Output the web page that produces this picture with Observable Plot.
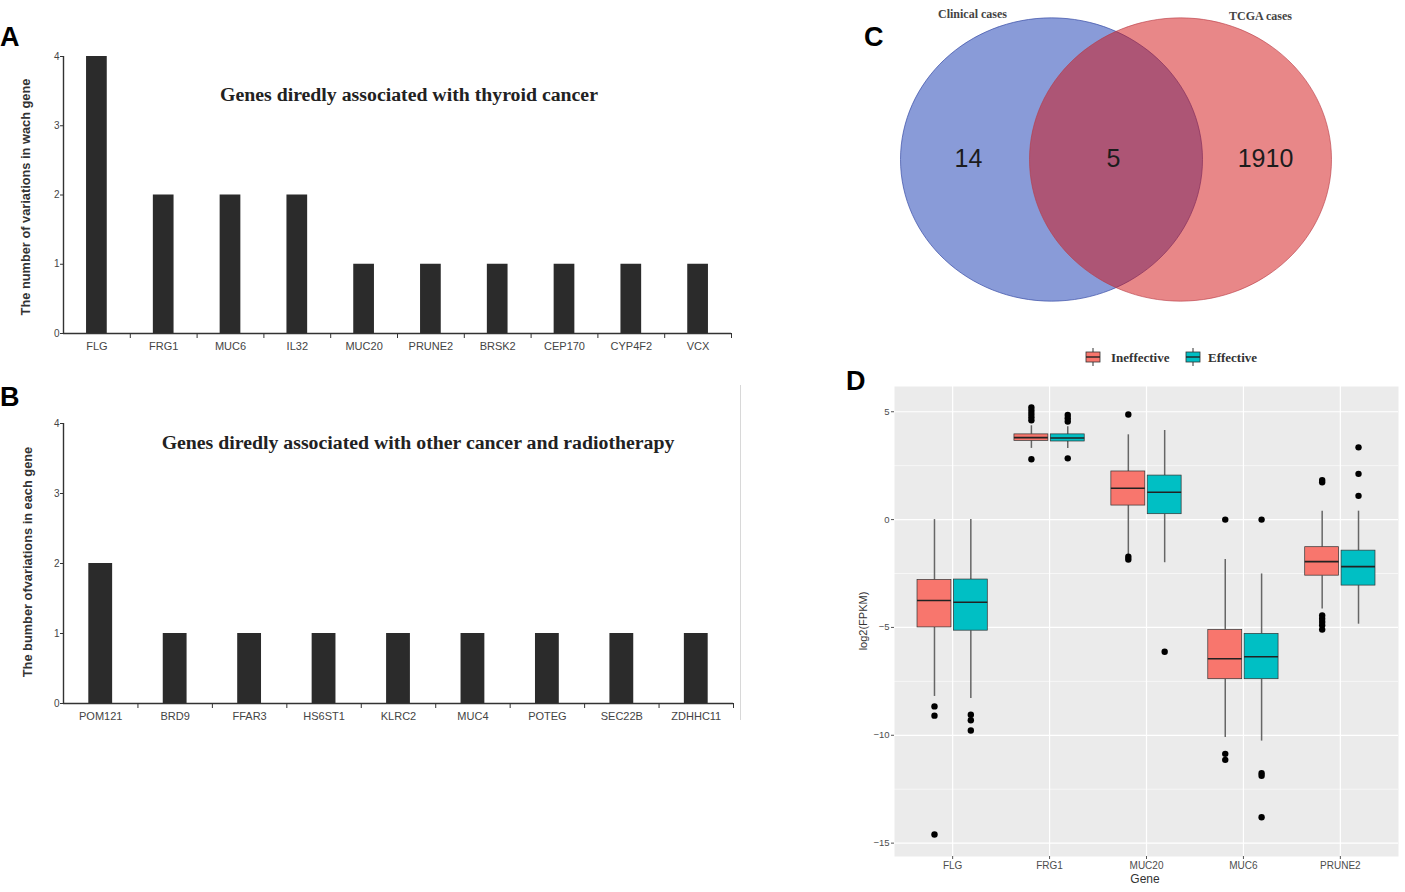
<!DOCTYPE html>
<html><head><meta charset="utf-8">
<script src="https://cdn.jsdelivr.net/npm/d3@7"></script>
<script src="https://cdn.jsdelivr.net/npm/@observablehq/plot@0.6"></script>
<style>
body{margin:0;background:#fff;}
#root{position:relative;width:1405px;height:892px;overflow:hidden;font-family:"Liberation Sans",Arial,sans-serif;}
.panel{position:absolute;}
.panel svg{overflow:visible;}
.letter{position:absolute;font:bold 27px "Liberation Sans",Arial,sans-serif;color:#000;line-height:1;}
.ptitle{position:absolute;font:bold 19.8px "Liberation Serif",serif;color:#222;white-space:nowrap;transform:translate(-50%,-50%);line-height:1;}
.ytitle{position:absolute;font:bold 12.8px "Liberation Sans",Arial,sans-serif;color:#333;white-space:nowrap;transform:translate(-50%,-50%) rotate(-90deg);line-height:1;}
.dlab{position:absolute;font:12px "Liberation Sans",Arial,sans-serif;color:#333;white-space:nowrap;transform:translate(-50%,-50%);line-height:1;}
.leg{position:absolute;font:bold 13px "Liberation Serif",serif;color:#333;white-space:nowrap;line-height:1;}
</style></head>
<body><div id="root"></div>
<script>
// ---------- DATA ----------
const genesA = ["FLG","FRG1","MUC6","IL32","MUC20","PRUNE2","BRSK2","CEP170","CYP4F2","VCX"];
const countsA = [4,2,2,2,1,1,1,1,1,1];
const genesB = ["POM121","BRD9","FFAR3","HS6ST1","KLRC2","MUC4","POTEG","SEC22B","ZDHHC11"];
const countsB = [2,1,1,1,1,1,1,1,1];
const countTicks = [0,1,2,3,4];

const vennSets = ["Clinical cases","TCGA cases"];
const vennRegions = ["Clinical only","Both","TCGA only"];
const vennCounts = [14,5,1910];

const genesD = ["FLG","FRG1","MUC20","MUC6","PRUNE2"];
const groupsD = ["Ineffective","Effective"];
const ineffLow  = [-8.2, 3.3, -1.75, -10.1, -4.15];
const ineffQ1   = [-5.0, 3.65, 0.65, -7.4, -2.6];
const ineffMed  = [-3.75, 3.8, 1.45, -6.45, -1.95];
const ineffQ3   = [-2.8, 3.95, 2.23, -5.12, -1.28];
const ineffHigh = [0, 4.35, 3.93, -1.85, 0.39];
const effLow    = [-8.3, 3.3, -2.0, -10.27, -4.85];
const effQ1     = [-5.15, 3.62, 0.25, -7.4, -3.06];
const effMed    = [-3.83, 3.78, 1.27, -6.36, -2.18];
const effQ3     = [-2.78, 3.95, 2.04, -5.3, -1.44];
const effHigh   = [0, 4.3, 4.13, -2.52, 0.39];
const ineffOutliers = [["FLG",-8.66],["FLG",-9.09],["FLG",-14.6],
  ["FRG1",5.2],["FRG1",5.05],["FRG1",4.9],["FRG1",4.75],["FRG1",4.6],["FRG1",2.8],
  ["MUC20",4.87],["MUC20",-1.72],["MUC20",-1.85],
  ["MUC6",0],["MUC6",-10.86],["MUC6",-11.14],
  ["PRUNE2",1.83],["PRUNE2",1.73],["PRUNE2",-4.45],["PRUNE2",-4.6],["PRUNE2",-4.75],["PRUNE2",-4.9],["PRUNE2",-5.1]];
const effOutliers = [["FLG",-9.05],["FLG",-9.3],["FLG",-9.78],
  ["FRG1",4.85],["FRG1",4.7],["FRG1",4.55],["FRG1",2.84],
  ["MUC20",-6.13],
  ["MUC6",0],["MUC6",-11.76],["MUC6",-11.88],["MUC6",-13.8],
  ["PRUNE2",3.35],["PRUNE2",2.12],["PRUNE2",1.1]];
const yMajorD = [-15,-10,-5,0,5];
const yMinorD = [-12.5,-7.5,-2.5,2.5];

// ---------- STYLE / LAYOUT ----------
const groupColors = ["#F8766D","#00BFC4"];
const root = document.getElementById("root");
function add(cls, text, css){ const d=document.createElement("div"); d.className=cls; d.textContent=text; Object.assign(d.style,css); root.appendChild(d); return d; }
function addPlot(svg, left, top){ const d=document.createElement("div"); d.className="panel"; d.style.left=left+"px"; d.style.top=top+"px"; d.appendChild(svg); root.appendChild(d); }

function barPanel(genes, counts, cfg){
  const data = genes.map((g,i)=>({i, gene:g, n:counts[i]}));
  const hw = cfg.barFrac/2;
  return Plot.plot({
    width: cfg.width, height: cfg.height,
    marginLeft: cfg.left, marginRight: cfg.width - cfg.right, marginTop: cfg.mt, marginBottom: cfg.mb,
    x: {domain:[0, genes.length], axis:null},
    y: {domain:[0,4], axis:null},
    style: {fontFamily:'"Liberation Sans",Arial,sans-serif', color:"#333", background:"transparent", overflow:"visible"},
    marks: [
      Plot.rect(data, {x1: d=>d.i+0.5-hw, x2: d=>d.i+0.5+hw, y1: 0, y2: "n", fill:"#2b2b2b"}),
      Plot.ruleY([0], {stroke:"#333", strokeWidth:1.4}),
      Plot.ruleX([0], {stroke:"#333", strokeWidth:1.4}),
      Plot.axisY(countTicks, {tickSize:3, tickPadding:1, fontSize:10, tickFormat:d=>String(d), label:null, fill:"#444"}),
      Plot.axisX(genes.map((g,i)=>i+0.5), {tickSize:0, tickPadding:cfg.pad, fontSize:11, fill:"#444", tickFormat:d=>genes[Math.round(d-0.5)], label:null}),
      Plot.axisX(genes.map((g,i)=>i+1), {tickSize:5, tickFormat:()=>"", label:null, stroke:"#333"})
    ]
  });
}

// Panel A
addPlot(barPanel(genesA, countsA, {width:745, height:325, left:63, right:731, mt:16, mb:32, barFrac:0.31, pad:9}), 0, 40);
add("letter","A",{left:"0px", top:"24px"});
add("ptitle","Genes diredly associated with thyroid cancer",{left:"409px", top:"95px"});
add("ytitle","The number of variations in wach gene",{left:"26px", top:"197px"});

// Panel B
addPlot(barPanel(genesB, countsB, {width:745, height:325, left:63, right:733, mt:18, mb:27, barFrac:0.32, pad:9}), 0, 405);
add("letter","B",{left:"0px", top:"384px"});
add("ptitle","Genes diredly associated with other cancer and radiotherapy",{left:"418px", top:"443px"});
add("ytitle","The bumber ofvariations in each gene",{left:"28px", top:"562px"});
const sep = document.createElement("div");
Object.assign(sep.style,{position:"absolute",left:"740px",top:"385px",width:"1px",height:"335px",background:"#d8d8d8"});
root.appendChild(sep);

// Panel C: Venn
const ellipse = {draw(ctx, size){
  const rx = Math.sqrt(size/Math.PI), ry = rx*0.938, k = 0.5522847;
  ctx.moveTo(rx,0);
  ctx.bezierCurveTo(rx, ry*k, rx*k, ry, 0, ry);
  ctx.bezierCurveTo(-rx*k, ry, -rx, ry*k, -rx, 0);
  ctx.bezierCurveTo(-rx, -ry*k, -rx*k, -ry, 0, -ry);
  ctx.bezierCurveTo(rx*k, -ry, rx, -ry*k, rx, 0);
  ctx.closePath();
}};
const vennCircleX = [191, 320], vennCy = 159, vennR = 151;
const vennLabelX = [108, 253, 405], vennLabelY = 158;
const vennNameX = [112, 400], vennNameY = [14, 16];
const vennFill = ["#1337b1","#d10f12"], vennStroke = ["#3b4ea6","#b83a44"];
const circles = vennSets.map((s,i)=>({set:s, x:vennCircleX[i], y:vennCy}));
const regions = vennRegions.map((r,i)=>({region:r, n:vennCounts[i], x:vennLabelX[i], y:vennLabelY}));
const names = vennSets.map((s,i)=>({set:s, x:vennNameX[i], y:vennNameY[i]}));
addPlot(Plot.plot({
  width:545, height:320, margin:0,
  x:{domain:[0,545], range:[0,545], axis:null},
  y:{domain:[0,320], range:[0,320], axis:null},
  style:{background:"transparent", overflow:"visible"},
  marks:[
    Plot.dot([circles[0]], {x:"x", y:"y", r:vennR, symbol:ellipse, fill:vennFill[0], fillOpacity:0.5, stroke:vennStroke[0], strokeOpacity:0.7, strokeWidth:1}),
    Plot.dot([circles[1]], {x:"x", y:"y", r:vennR, symbol:ellipse, fill:vennFill[1], fillOpacity:0.5, stroke:vennStroke[1], strokeOpacity:0.6, strokeWidth:1}),
    Plot.text(regions, {x:"x", y:"y", text:d=>String(d.n), fontSize:25, fill:"#1c1c1c", fontFamily:'"Liberation Sans",Arial,sans-serif'}),
    Plot.text(names, {x:"x", y:"y", text:"set", fontSize:12, fontWeight:"bold", fill:"#444", fontFamily:'"Liberation Serif",serif'})
  ]
}), 860, 0);
add("letter","C",{left:"864px", top:"24px"});

// Panel D
const dodge = 0.1875, halfW = 0.175;
function boxes(low,q1,med,q3,high,g){ return genesD.map((gene,i)=>({gene, cx:i+(g?dodge:-dodge), lo:low[i], q1:q1[i], med:med[i], q3:q3[i], hi:high[i]})); }
const boxI = boxes(ineffLow,ineffQ1,ineffMed,ineffQ3,ineffHigh,0);
const boxE = boxes(effLow,effQ1,effMed,effQ3,effHigh,1);
const allBoxes = boxI.concat(boxE);
const outs = ineffOutliers.map(([g,v])=>({cx:genesD.indexOf(g)-dodge, v}))
  .concat(effOutliers.map(([g,v])=>({cx:genesD.indexOf(g)+dodge, v})));
addPlot(Plot.plot({
  width:565, height:522, marginLeft:54, marginRight:7, marginTop:16, marginBottom:36,
  x:{domain:[-0.6,4.6], axis:null},
  y:{domain:[-15.62,6.17], axis:null},
  style:{fontFamily:'"Liberation Sans",Arial,sans-serif', color:"#4d4d4d", background:"transparent", overflow:"visible"},
  marks:[
    Plot.frame({fill:"#EBEBEB", stroke:"none"}),
    Plot.gridY(yMinorD, {stroke:"#fff", strokeOpacity:1, strokeWidth:0.6}),
    Plot.gridY(yMajorD, {stroke:"#fff", strokeOpacity:1, strokeWidth:1.2}),
    Plot.gridX([0,1,2,3,4], {stroke:"#fff", strokeOpacity:1, strokeWidth:1.2}),
    Plot.ruleX(allBoxes, {x:"cx", y1:"lo", y2:"q1", stroke:"#666", strokeWidth:1.5}),
    Plot.ruleX(allBoxes, {x:"cx", y1:"q3", y2:"hi", stroke:"#666", strokeWidth:1.5}),
    Plot.rect(boxI, {x1:d=>d.cx-halfW, x2:d=>d.cx+halfW, y1:"q1", y2:"q3", fill:groupColors[0], stroke:"#333", strokeWidth:0.7}),
    Plot.rect(boxE, {x1:d=>d.cx-halfW, x2:d=>d.cx+halfW, y1:"q1", y2:"q3", fill:groupColors[1], stroke:"#333", strokeWidth:0.7}),
    Plot.ruleY(allBoxes, {y:"med", x1:d=>d.cx-halfW, x2:d=>d.cx+halfW, stroke:"#222", strokeWidth:1.6}),
    Plot.dot(outs, {x:"cx", y:"v", r:3.2, fill:"#000", stroke:"none"}),
    Plot.axisY(yMajorD, {tickSize:3, tickPadding:2, fontSize:9.5, label:null, stroke:"#555", fill:"#4d4d4d"}),
    Plot.axisX([0,1,2,3,4], {tickSize:3, tickPadding:2, fontSize:10, tickFormat:i=>genesD[i], label:null, stroke:"#555", fill:"#4d4d4d"})
  ]
}), 840, 370);
add("letter","D",{left:"846px", top:"368px"});
add("dlab","Gene",{left:"1145px", top:"879px"});
const yl = add("dlab","log2(FPKM)",{left:"863px", top:"621px", fontSize:"11px"});
yl.style.transform = "translate(-50%,-50%) rotate(-90deg)";

// Legend for D
function legendKey(color, left){
  const ns="http://www.w3.org/2000/svg";
  const s=document.createElementNS(ns,"svg");
  s.setAttribute("width","16"); s.setAttribute("height","18");
  Object.assign(s.style,{position:"absolute",left:left+"px",top:"348px"});
  s.innerHTML = `<line x1="8" y1="0" x2="8" y2="18" stroke="#555" stroke-width="1.2"/>
    <rect x="1" y="4" width="14" height="10" fill="${color}" stroke="#333" stroke-width="0.8"/>
    <line x1="1" y1="9" x2="15" y2="9" stroke="#222" stroke-width="1.4"/>`;
  root.appendChild(s);
}
legendKey(groupColors[0], 1085);
legendKey(groupColors[1], 1185);
add("leg", groupsD[0], {left:"1111px", top:"351px"});
add("leg", groupsD[1], {left:"1208px", top:"351px"});
</script></body></html>
